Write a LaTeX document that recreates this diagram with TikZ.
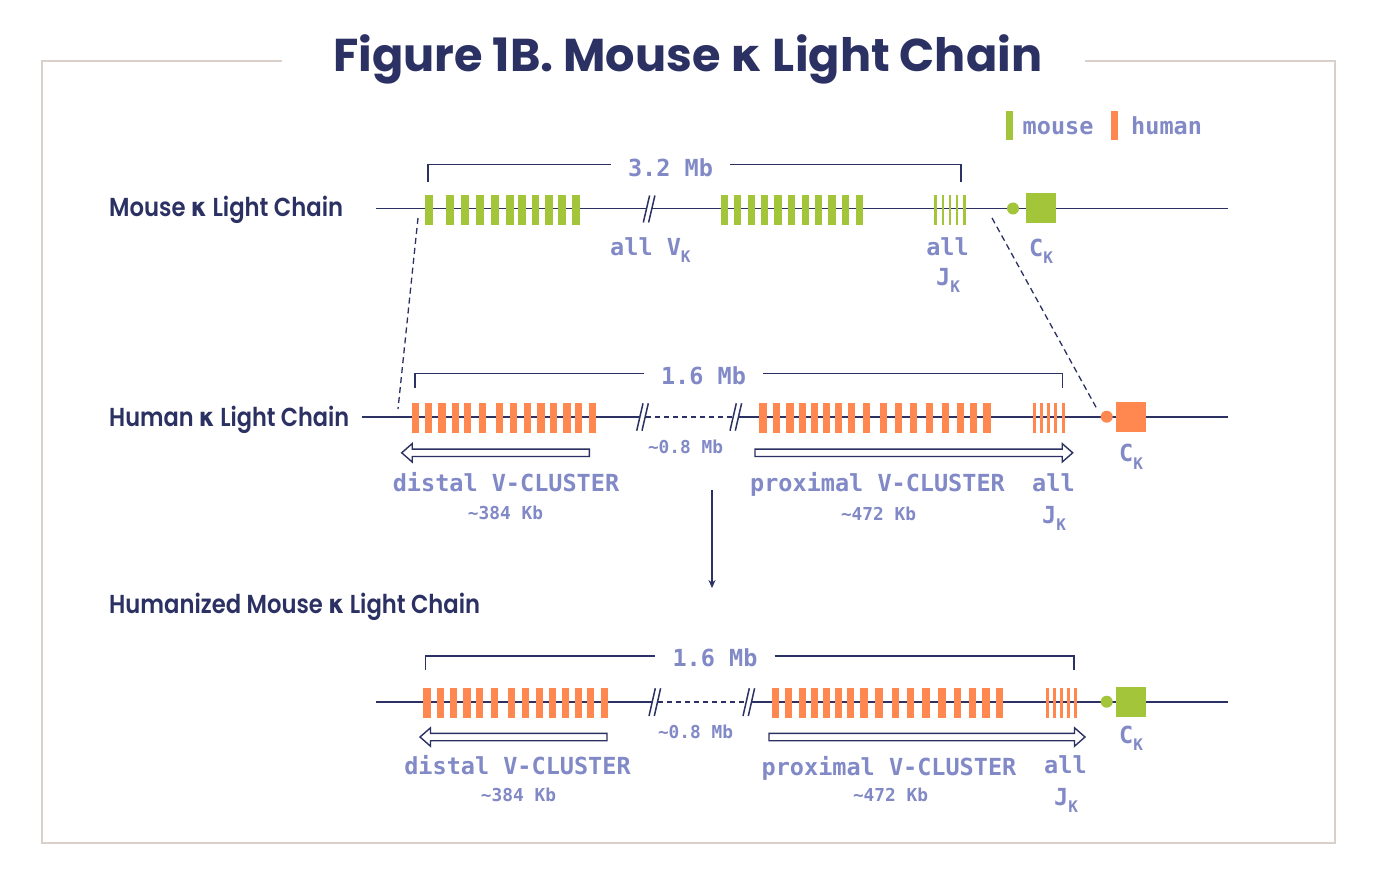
\documentclass[tikz,border=0pt]{standalone}
\usepackage{fontspec}
\usepackage{graphicx}
\setmainfont{Poppins}
\newfontfamily\popsb{Poppins SemiBold}
\newfontfamily\gk{DejaVu Sans}
\newfontfamily\mono{DejaVu Sans Mono}
\usetikzlibrary{arrows.meta}
\definecolor{navy}{HTML}{2C3163}
\definecolor{lav}{HTML}{8189C6}
\definecolor{mgreen}{HTML}{A3C53A}
\definecolor{horange}{HTML}{FF8750}
\definecolor{framec}{HTML}{D9D0CC}
\newcommand\ksub{\raisebox{-7.5pt}{\fontsize{16}{16}\selectfont K}}
\newcommand\kap{{\gk\bfseries κ}}
\newcommand\brkmark[3]{%
  \fill[white] (#1,#3) -- ({#1+6.3},#2) -- ({#1+11.6},#2) -- ({#1+5.3},#3) -- cycle;
  \draw[brk] (#1,#3) -- ({#1+6.3},#2);
  \draw[brk] ({#1+5.3},#3) -- ({#1+11.6},#2);}
\newcommand\larrowshape[3]{% tip x, tail x, y  (pointing left)
  \draw[garrow] (#1,#3) -- ({#1+10.5},{#3-9.2}) -- ({#1+10.5},{#3-3.7}) -- (#2,{#3-3.7})
     -- (#2,{#3+3.7}) -- ({#1+10.5},{#3+3.7}) -- ({#1+10.5},{#3+9.2}) -- cycle;}
\newcommand\rarrowshape[3]{% tail x, tip x, y (pointing right)
  \draw[garrow] (#2,#3) -- ({#2-10.5},{#3-9.2}) -- ({#2-10.5},{#3-3.7}) -- (#1,{#3-3.7})
     -- (#1,{#3+3.7}) -- ({#2-10.5},{#3+3.7}) -- ({#2-10.5},{#3+9.2}) -- cycle;}
\tikzset{
  mlab/.style={font=\mono\bfseries\fontsize{23.5}{28}\selectfont, text=lav, inner sep=0pt},
  slab/.style={font=\mono\bfseries\fontsize{17.8}{21}\selectfont, text=lav, inner sep=0pt},
  blab/.style={font=\mono\bfseries\fontsize{23.5}{28}\selectfont, text=lav, inner ysep=0pt, inner xsep=17pt},
  rowlab/.style={font=\popsb\fontsize{26}{30}\selectfont, text=navy, anchor=base west, inner sep=0pt},
  chr/.style={draw=navy, line width=1.6pt},
  chrd/.style={draw=navy, line width=1.6pt, dash pattern=on 5pt off 4pt},
  brk/.style={draw=navy, line width=1.5pt},
  bracketline/.style={draw=navy, line width=1.5pt},
  conn/.style={draw=navy, line width=1.3pt, dash pattern=on 6pt off 4pt},
  garrow/.style={draw=navy, line width=1.4pt, fill=white, line join=miter},
}
\begin{document}
\begin{tikzpicture}[x=1pt,y=-1pt]
\useasboundingbox (0,0) rectangle (1380,885);
\fill[white] (0,0) rectangle (1380,885);
% frame
\draw[framec, line width=1.5pt] (282,61) -- (42,61) -- (42,843) -- (1335,843) -- (1335,61) -- (1085,61);
% title
\node[anchor=base west, inner sep=0pt, text=navy, font=\bfseries\fontsize{46}{50}\selectfont] (title) at (333,71.7)
  {\resizebox{709pt}{\height}{Figure 1B. Mouse \kap\ Light Chain}};
% legend
\fill[mgreen] (1006,111) rectangle (1013,140.5);
\node[mlab, anchor=base west] (legm) at (1022.5,135) {mouse};
\fill[horange] (1110.7,111) rectangle (1117.7,140.5);
\node[mlab, anchor=base west] (legh) at (1131,135) {human};
% row labels
\node[rowlab] (rowM) at (109,216.7) {\resizebox{234pt}{\height}{Mouse \kap\ Light Chain}};
\node[rowlab] (rowH) at (109,426.7) {\resizebox{240pt}{\height}{Human \kap\ Light Chain}};
\node[rowlab] (rowZ) at (109,613.3) {\resizebox{371pt}{\height}{Humanized Mouse \kap\ Light Chain}};

% ================= Mouse row =================
\draw[chr] (376,208.5) -- (1228,208.5);
\foreach \x in {425,446,461,476,491,506,518.3,531.7,545,558.3,572.3}
  \fill[mgreen] (\x,195) rectangle ++(7.6,30);
\foreach \x in {720.7,734,747.7,761,774.3,788,801.7,815,828.3,841.7,855.7}
  \fill[mgreen] (\x,195) rectangle ++(7.4,30);
\foreach \x in {934.3,941.5,948.5,955.5,963}
  \fill[mgreen] (\x,195) rectangle ++(2.7,30);
\brkmark{643.3}{195.5}{222.5}
\fill[mgreen] (1013,208.5) circle (6);
\fill[mgreen] (1026,193) rectangle (1056,223);
% bracket
\node[blab, anchor=base] (mb32) at (670.5,176.5) {3.2 Mb};
\coordinate (mbL) at (428,181.7);
\coordinate (mbR) at (961,181.7);
\draw[bracketline] (mbL) |- ([yshift=3pt]mb32.west);
\draw[bracketline] ([yshift=3pt]mb32.east) -| (mbR);
% labels
\node[mlab, anchor=base west] (mV) at (610,255) {all V\ksub};
\node[mlab, anchor=base] (mJa) at (947.5,255) {all};
\node[mlab, anchor=base west] (mJb) at (936,285) {J\ksub};
\node[mlab, anchor=base west] (mC) at (1029,256) {C\ksub};

% connectors
\coordinate (cA1) at (418,218);
\coordinate (cA2) at (398,409);
\coordinate (cB1) at (992,218);
\coordinate (cB2) at (1097,409);
\draw[conn] (cA1) -- (cA2);
\draw[conn] (cB1) -- (cB2);

% ================= Human row =================
\draw[chr] (362,416.7) -- (642,416.7);
\draw[chrd] (646,416.7) -- (734,416.7);
\draw[chr] (736,416.7) -- (1228,416.7);
\foreach \x in {411.7,425,438.3,451.7,464,479,496,510,524,537.3,550,563.3,575,589}
  \fill[horange] (\x,403) rectangle ++(7.3,30);
\foreach \x in {759.3,772.7,786.3,798.7,810.7,822.7,834.7,848,863,879.7,894.7,910,926,941.5,956.5,970,983.3}
  \fill[horange] (\x,403) rectangle ++(7.3,30);
\foreach \x in {1033.3,1040.2,1047,1054,1062.3}
  \fill[horange] (\x,403) rectangle ++(2.7,30);
\brkmark{636.7}{403.3}{430.7}
\brkmark{730}{403.3}{430.7}
\fill[horange] (1106.7,416.7) circle (6);
\fill[horange] (1116,401.7) rectangle (1146,431.7);
\node[blab, anchor=base] (hb16) at (703.5,384) {1.6 Mb};
\coordinate (hbL) at (415,388);
\coordinate (hbR) at (1062.7,388);
\draw[bracketline] (hbL) |- ([yshift=2pt]hb16.west);
\draw[bracketline] ([yshift=2pt]hb16.east) -| (hbR);
\larrowshape{401.7}{589.3}{452.8}
\rarrowshape{755}{1072.7}{452.8}
\node[slab, anchor=base] (hgap) at (685.5,453.3) {\char`~0.8 Mb};
\node[mlab, anchor=base] (hdist) at (506,491.7) {distal V-CLUSTER};
\node[slab, anchor=base] (hdkb) at (505.5,519) {\char`~384 Kb};
\node[mlab, anchor=base] (hprox) at (877.5,491.7) {proximal V-CLUSTER};
\node[slab, anchor=base] (hpkb) at (878.5,520) {\char`~472 Kb};
\node[mlab, anchor=base west] (hJa) at (1032,491.7) {all};
\node[mlab, anchor=base west] (hJb) at (1042,523) {J\ksub};
\node[mlab, anchor=base west] (hC) at (1119,461.7) {C\ksub};

% down arrow
\coordinate (dA1) at (712,490);
\coordinate (dA2) at (712,588);
\draw[navy, line width=1.4pt, -{Stealth[length=8pt,width=7pt]}] (dA1) -- (dA2);

% ================= Humanized row =================
\draw[chr] (376,701.7) -- (654,701.7);
\draw[chrd] (658,701.7) -- (747,701.7);
\draw[chr] (749,701.7) -- (1228,701.7);
\foreach \x in {411.7,425,438.3,451.7,464,479,496,510,524,537.3,550,563.3,575,589}
  \fill[horange] ({\x+11.7},688) rectangle ++(7.3,30);
\foreach \x in {759.3,772.7,786.3,798.7,810.7,822.7,834.7,848,863,879.7,894.7,910,926,941.5,956.5,970,983.3}
  \fill[horange] ({\x+12.3},688) rectangle ++(7.3,30);
\foreach \x in {1046,1053.2,1060,1067.3,1074.3}
  \fill[horange] (\x,688) rectangle ++(2.7,30);
\brkmark{649}{688.3}{716}
\brkmark{743}{688.3}{716}
\fill[mgreen] (1106.7,701.7) circle (6);
\fill[mgreen] (1116,686.7) rectangle (1146,716.7);
\node[blab, anchor=base] (zb16) at (715,666.7) {1.6 Mb};
\coordinate (zbL) at (425.7,670);
\coordinate (zbR) at (1074,670);
\draw[bracketline] (zbL) |- ([yshift=2pt]zb16.west);
\draw[bracketline] ([yshift=2pt]zb16.east) -| (zbR);
\larrowshape{420}{607}{737}
\rarrowshape{769}{1085}{737}
\node[slab, anchor=base] (zgap) at (695.5,738.3) {\char`~0.8 Mb};
\node[mlab, anchor=base] (zdist) at (517.5,774) {distal V-CLUSTER};
\node[slab, anchor=base] (zdkb) at (518.5,801.7) {\char`~384 Kb};
\node[mlab, anchor=base] (zprox) at (889,775) {proximal V-CLUSTER};
\node[slab, anchor=base] (zpkb) at (890.5,801.7) {\char`~472 Kb};
\node[mlab, anchor=base west] (zJa) at (1044,773.3) {all};
\node[mlab, anchor=base west] (zJb) at (1054,805) {J\ksub};
\node[mlab, anchor=base west] (zC) at (1119,743) {C\ksub};
\end{tikzpicture}
\end{document}
